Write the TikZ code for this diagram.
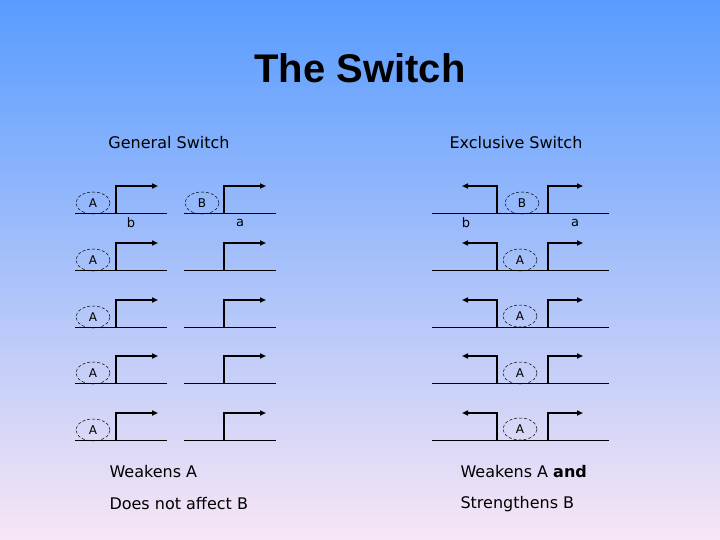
\documentclass[tikz,border=0pt]{standalone}
\usepackage{fontspec}
\setmainfont{DejaVu Sans}
\newfontfamily\titlefont{Liberation Sans}
\usetikzlibrary{arrows.meta,shapes.geometric}
\definecolor{topblue}{RGB}{88,156,255}
\definecolor{botpink}{RGB}{248,230,245}
\tikzset{
  base/.style={line width=0.9pt},
  sw/.style={line width=1.6pt,-{Triangle[length=6pt,width=5pt]}},
  ell/.style={ellipse,draw,densely dashed,line width=0.5pt,minimum width=34pt,minimum height=22pt,inner sep=0pt,font=\fontsize{12}{12}\selectfont},
  lbl/.style={font=\fontsize{13}{13}\selectfont},
  txt/.style={font=\fontsize{16}{16}\selectfont,anchor=west}
}
\begin{document}
\begin{tikzpicture}[x=1pt,y=-1pt]
\shade[top color=topblue,bottom color=botpink] (0,0) rectangle (720,540);
\useasboundingbox (0,0) rectangle (720,540);
\node (title) at (360,68) {\titlefont\bfseries\fontsize{40}{40}\selectfont The Switch};
\node[font=\fontsize{16}{16}\selectfont] (gs) at (169,143) {General Switch};
\node[font=\fontsize{16}{16}\selectfont] (es) at (516,143) {Exclusive Switch};
% general switch rows
\foreach \y [count=\i] in {213,270,327,383,440}{
  \coordinate (l\i s) at (75,\y); \coordinate (l\i e) at (167,\y);
  \coordinate (l\i r) at (116,\y); \coordinate (l\i t) at (116,\y-27); \coordinate (l\i a) at (158,\y-27);
  \draw[base] (l\i s) -- (l\i e);
  \draw[sw] (l\i r) -- (l\i t) -- (l\i a);
  \coordinate (m\i s) at (184,\y); \coordinate (m\i e) at (276,\y);
  \coordinate (m\i r) at (224,\y); \coordinate (m\i t) at (224,\y-27); \coordinate (m\i a) at (266,\y-27);
  \draw[base] (m\i s) -- (m\i e);
  \draw[sw] (m\i r) -- (m\i t) -- (m\i a);
  \node[ell] (ga\i) at (93,\y-10) {A};
  % exclusive
  \coordinate (x\i s) at (432,\y); \coordinate (x\i e) at (609,\y);
  \coordinate (x\i r) at (497,\y); \coordinate (x\i t) at (497,\y-27); \coordinate (x\i a) at (462,\y-27);
  \coordinate (y\i r) at (548,\y); \coordinate (y\i t) at (548,\y-27); \coordinate (y\i a) at (583,\y-27);
  \draw[base] (x\i s) -- (x\i e);
  \draw[sw] (x\i r) -- (x\i t) -- (x\i a);
  \draw[sw] (y\i r) -- (y\i t) -- (y\i a);
}
\node[ell] (gb) at (202,203) {B};
\node[ell] (xb) at (522,203) {B};
\foreach \i/\y in {2/260,3/316,4/373,5/429}{\node[ell] (xa\i) at (520,\y) {A};}
\node[lbl] (b1) at (131,223) {b};
\node[lbl] (a1) at (240,223) {a};
\node[lbl] (b2) at (466,223) {b};
\node[lbl] (a2) at (575,223) {a};
\node[txt] (w1) at (106,472) {Weakens A};
\node[txt] (w2) at (106,504) {Does not affect B};
\node[txt] (w3) at (457,472) {Weakens A \textbf{and}};
\node[txt] (w4) at (457,504) {Strengthens B};
\end{tikzpicture}
\end{document}
